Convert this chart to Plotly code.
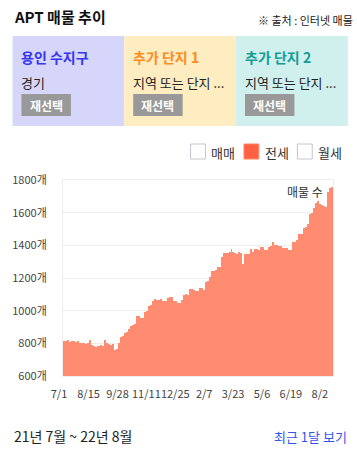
import plotly.graph_objects as go
import pandas as pd

# ---------------- data ----------------
values = [
    815, 812, 818, 810, 816, 813, 808, 815, 802, 800, 805, 798, 802, 820, 790, 784, 780, 786, 785, 788,
    783, 822, 800, 795, 792, 798, 760, 765, 800, 840, 845, 865, 870, 888, 906, 910, 918, 965, 968, 955,
    958, 992, 995, 1028, 1035, 1060, 1071, 1068, 1065, 1070, 1059, 1058, 1062, 1077, 1085, 1083, 1060,
    1058, 1050, 1047, 1065, 1096, 1100, 1098, 1132, 1135, 1126, 1122, 1120, 1139, 1136, 1128, 1175, 1180,
    1206, 1243, 1245, 1248, 1267, 1270, 1328, 1353, 1355, 1352, 1359, 1377, 1362, 1353, 1350, 1358, 1352,
    1285, 1347, 1345, 1350, 1377, 1362, 1378, 1377, 1370, 1390, 1388, 1371, 1372, 1390, 1395, 1420, 1402,
    1405, 1396, 1394, 1383, 1383, 1382, 1371, 1370, 1420, 1418, 1433, 1469, 1472, 1470, 1506, 1510, 1530,
    1592, 1595, 1628, 1659, 1671, 1653, 1650, 1641, 1635, 1727, 1751, 1755,
]
start_date = "2021-07-01"
step = "3D"
tick_dates = ["2021-07-01", "2021-08-15", "2021-09-28", "2021-11-11", "2021-12-25",
              "2022-02-07", "2022-03-23", "2022-05-06", "2022-06-19", "2022-08-02"]
tick_labels = ["7/1", "8/15", "9/28", "11/11", "12/25", "2/7", "3/23", "5/6", "6/19", "8/2"]
y_ticks = [600, 800, 1000, 1200, 1400, 1600, 1800]
y_tick_labels = [f"{v}개" for v in y_ticks]

title = "APT 매물 추이"
source = "※ 출처 : 인터넷 매물"
box_titles = ["용인 수지구", "추가 단지 1", "추가 단지 2"]
box_subs = ["경기", "지역 또는 단지 ...", "지역 또는 단지 ..."]
legend_items = ["매매", "전세", "월세"]
period_text = "21년 7월 ~ 22년 8월"
link_text = "최근 1달 보기"

dates = pd.date_range(start_date, periods=len(values), freq=step)

# ---------------- layout geometry ----------------
W, H = 357, 450
L, R, T, B = 60, 333, 180, 376
FONT = "Noto Sans CJK KR, Noto Sans, sans-serif"


def px(x):
    return (x - L) / (R - L)


def py(y):
    return (B - y) / (B - T)


fig = go.Figure()
fig.add_trace(go.Bar(
    x=dates, y=values, marker=dict(color="#FF8B71", line=dict(width=0)),
    hoverinfo="skip", showlegend=False,
))

half = pd.Timedelta(hours=36)
fig.update_layout(
    width=W, height=H,
    margin=dict(l=L, r=W - R, t=T, b=H - B, pad=0),
    paper_bgcolor="white", plot_bgcolor="white",
    bargap=0,
    font=dict(family=FONT, color="#333", size=12),
    xaxis=dict(
        type="date", range=[dates[0] - half, dates[-1] + half],
        tickvals=pd.to_datetime(tick_dates), ticktext=tick_labels, tickangle=0,
        showgrid=False, zeroline=False, ticks="", ticklabelshift=-5, ticklabelstandoff=8,
        tickfont=dict(size=11, color="#444"),
        showline=True, linecolor="#eeeeee", mirror=True, linewidth=1,
        fixedrange=True,
    ),
    yaxis=dict(
        range=[600, 1800], tickvals=y_ticks, ticktext=y_tick_labels,
        showgrid=True, gridcolor="#eeeeee", gridwidth=1, zeroline=False, ticks="",
        tickfont=dict(size=11, color="#444"), ticklabelstandoff=13,
        showline=True, linecolor="#eeeeee", mirror=True, linewidth=1,
        fixedrange=True,
    ),
)

shapes = []
annots = []


def note(x, y, text, anchor, size, color):
    annots.append(dict(x=px(x), y=py(y), xref="paper", yref="paper", text=text,
                       showarrow=False, xanchor=anchor, yanchor="middle",
                       borderpad=0, borderwidth=0,
                       font=dict(size=size, color=color, family=FONT)))


# header
note(10, 17, f"<b>{title}</b>", "left", 15, "#111")
note(353, 20, source, "right", 11, "#222")

# boxes
box_colors = ["#D5D6FA", "#FFEDC2", "#D0F0EE"]
title_colors = ["#3535EE", "#FF8A1E", "#129C96"]
box_x = [9, 122, 235, 348]
for i in range(3):
    x0, x1 = box_x[i], box_x[i + 1]
    shapes.append(dict(type="rect", xref="paper", yref="paper",
                       x0=px(x0), x1=px(x1), y0=py(126), y1=py(36),
                       fillcolor=box_colors[i], line=dict(width=0), layer="below"))
    note(x0 + 9, 57, f"<b>{box_titles[i]}</b>", "left", 14, title_colors[i])
    note(x0 + 9, 82, box_subs[i], "left", 13, "#222")
    shapes.append(dict(type="rect", xref="paper", yref="paper",
                       x0=px(x0 + 9), x1=px(x0 + 59), y0=py(116), y1=py(94),
                       fillcolor="#999999", line=dict(width=0)))
    note(x0 + 34, 105, "<b>재선택</b>", "center", 12, "white")

# legend checkboxes
leg_x = [189, 243, 297]
for i, name in enumerate(legend_items):
    x0 = leg_x[i]
    on = (i == 1)
    shapes.append(dict(type="rect", xref="paper", yref="paper",
                       x0=px(x0), x1=px(x0 + 15), y0=py(159), y1=py(144),
                       fillcolor="#FF6142" if on else "white",
                       line=dict(width=1, color="#FF8566" if on else "#C4C4CE")))
    note(x0 + 21, 152, name, "left", 13, "#333")

# in-plot label
note(323, 191, "매물 수", "right", 12, "#333")

# footer
note(10, 436, period_text, "left", 14, "#222")
note(347, 436, link_text, "right", 13, "#3355EE")

fig.update_layout(shapes=shapes, annotations=annots)
fig.write_html("out.html", config={"displayModeBar": False, "staticPlot": True},
               post_script="document.body.style.margin='0';document.body.style.overflow='hidden';")
